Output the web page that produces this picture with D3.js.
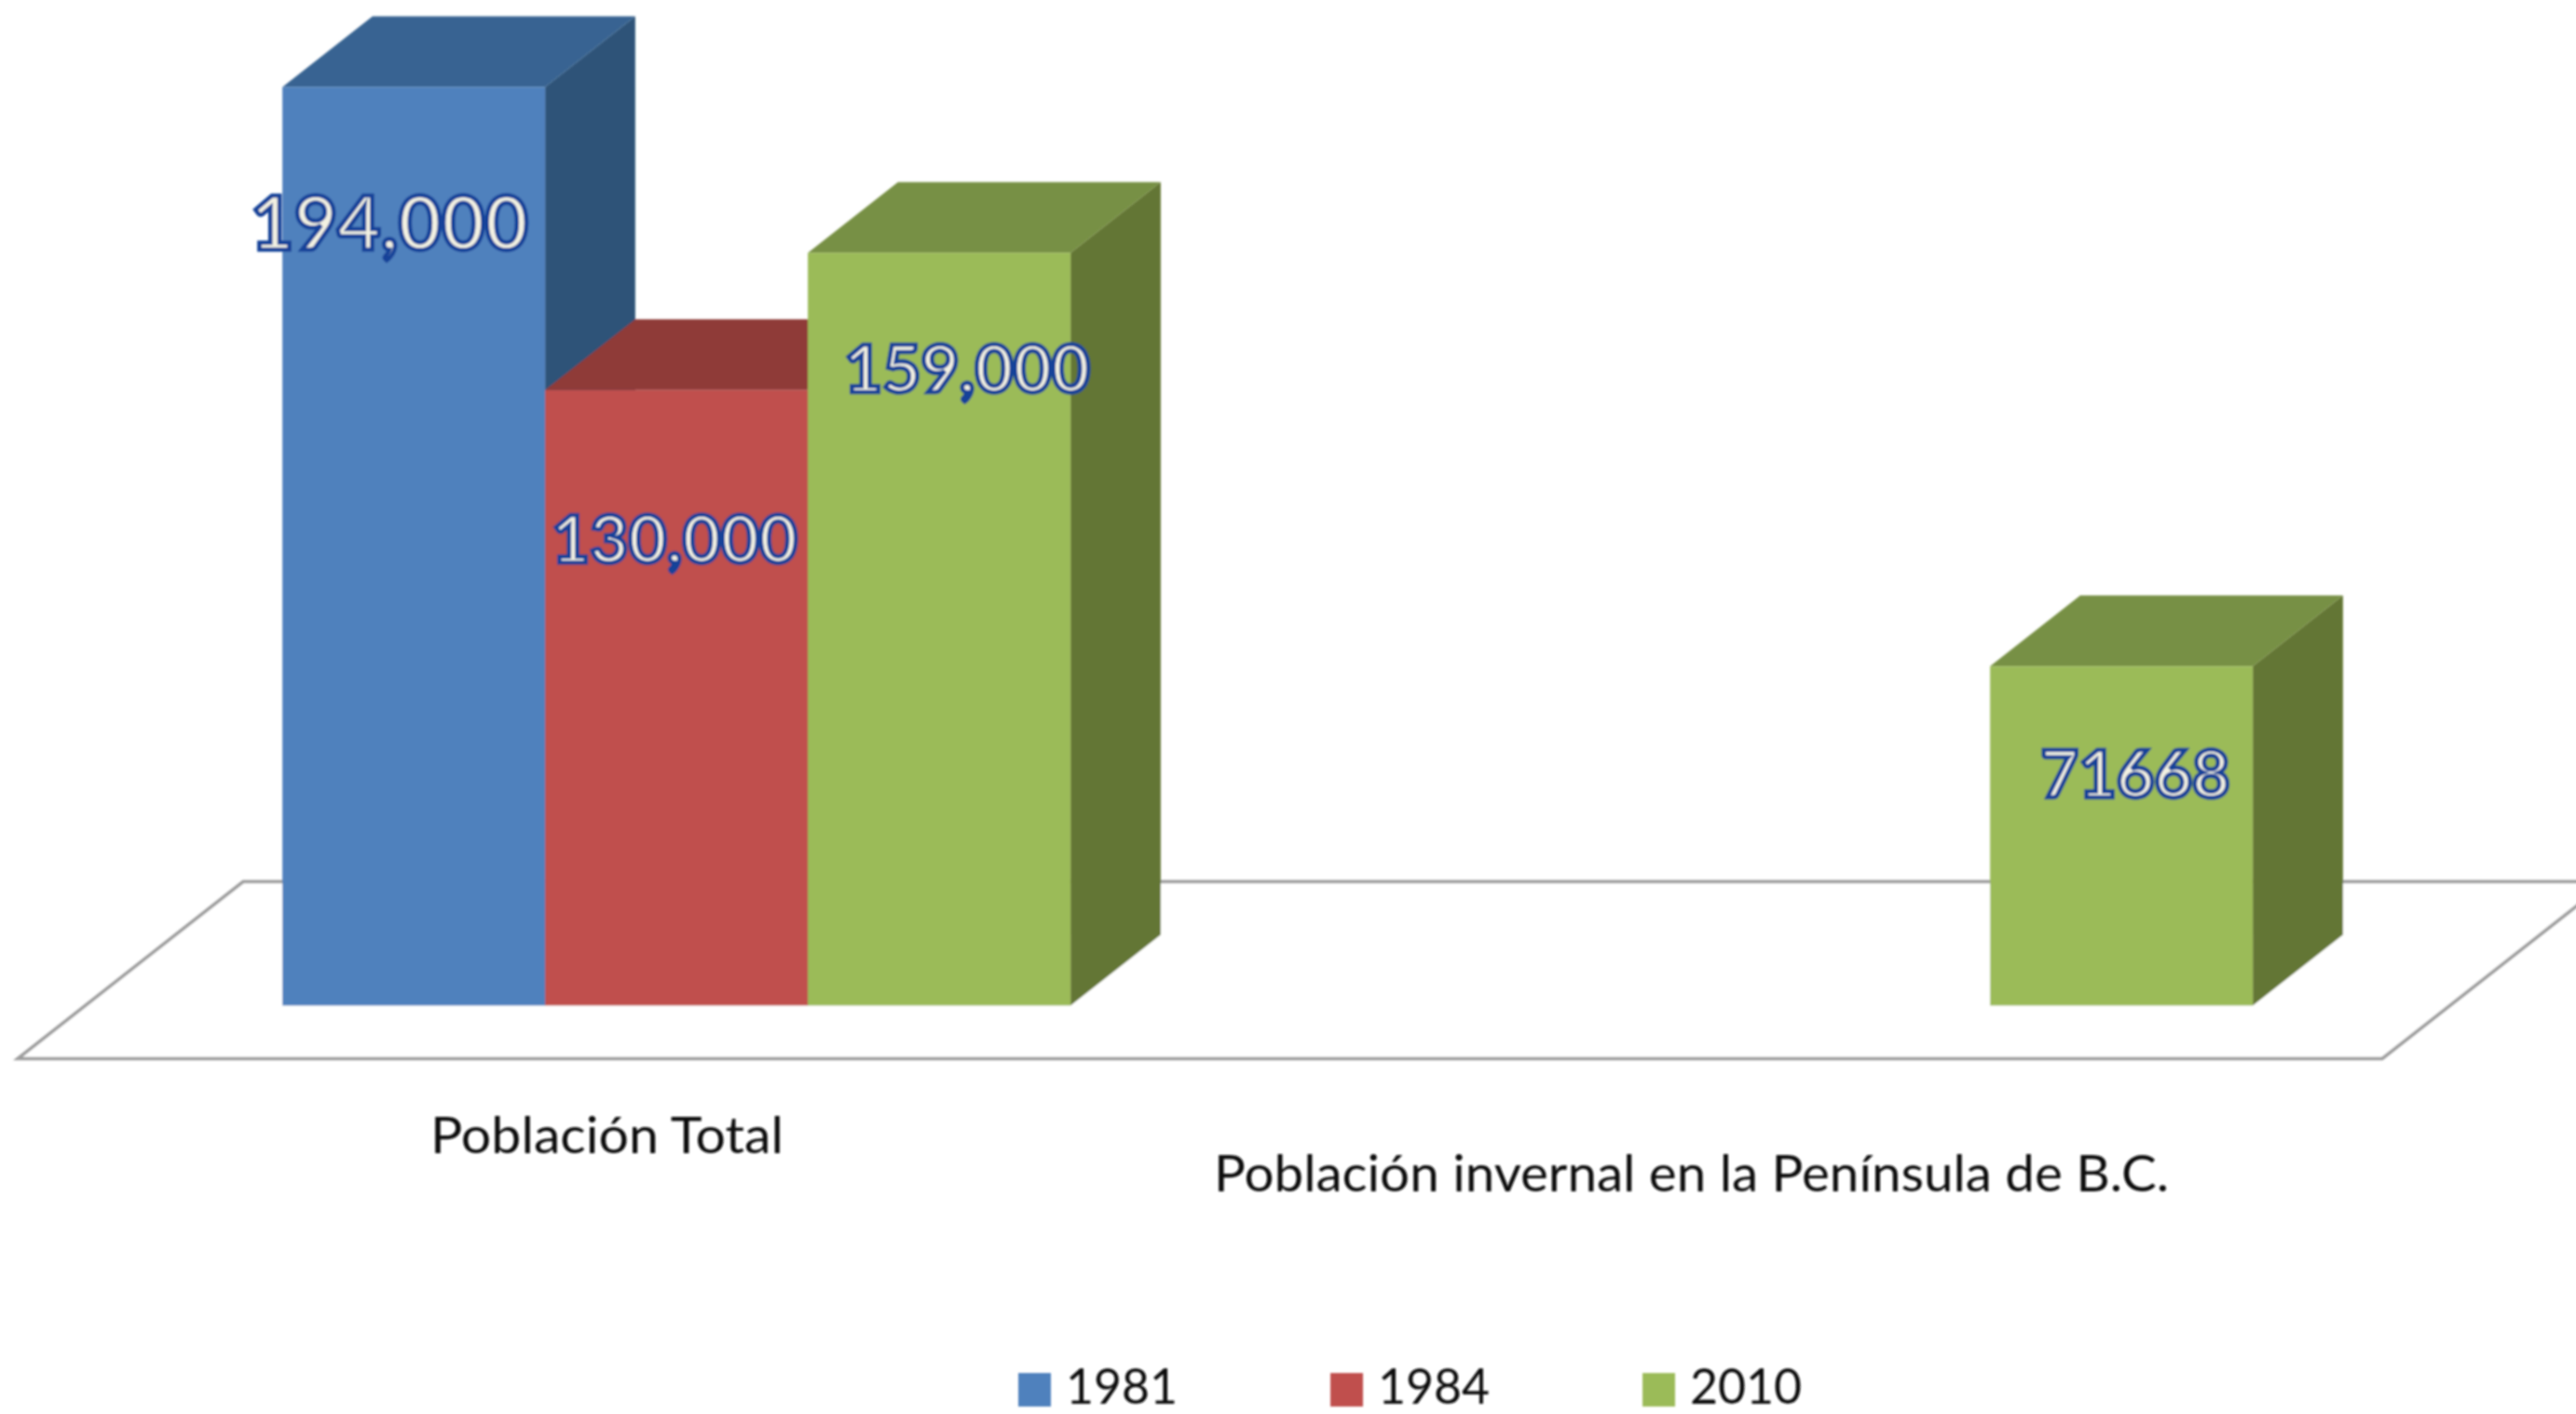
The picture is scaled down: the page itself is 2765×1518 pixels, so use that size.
<!DOCTYPE html>
<html>
<head>
<meta charset="utf-8">
<script src="https://cdn.jsdelivr.net/npm/d3@7"></script>
<style>
  html, body { margin: 0; padding: 0; background: #fff; overflow: hidden; }
  svg { display: block; }
  text { font-family: Lato, "Open Sans", sans-serif; fill: #111; }
  .value_label { fill: #f3f1e2; stroke: #134299; stroke-width: 4.6px; font-weight: 700; }
</style>
</head>
<body>
<div id="chart"></div>
<script>
// data
const categories = ['Población Total', 'Población invernal en la Península de B.C.'];
const seriesNames = ['1981', '1984', '2010'];
const values1981 = [194000, null];
const values1984 = [130000, null];
const values2010 = [159000, 71668];
const valueLabels1981 = ['194,000', ''];
const valueLabels1984 = ['130,000', ''];
const valueLabels2010 = ['159,000', '71668'];

const w = 2765, h = 1518;
const floorLeft = 19, floorRight = 2557, floorFront = 1136.5;
const depthX = 242, depthY = 190;   // full floor depth in the oblique projection
const barDepthStart = 0.3, barDepthEnd = 0.7;
const colors = {
    '1981': { front: '#4f81bd', top: '#386492', side: '#2f5378' },
    '1984': { front: '#c0504d', top: '#8f3a38', side: '#7d3230' },
    '2010': { front: '#9bbb59', top: '#779044', side: '#647634' }
};

// label placement is by hand in the original, so offsets are kept here
const labelNudge = {
    '1981|0': { dx: -26, dy: 175, size: 80, len: 298 },
    '1984|0': { dx: -2, dy: 185, size: 70, len: 264 },
    '2010|0': { dx: 30, dy: 150, size: 70, len: 264 },
    '2010|1': { dx: 15, dy: 141, size: 70, len: 203 }
};
const tickNudge = [{ x: -2, y: 0, len: 379 }, { x: -107, y: 41, len: 1025 }];

const svg = d3.select('#chart').append('svg')
    .attr('width', w)
    .attr('height', h);

const defs = svg.append('defs');
defs.append('filter').attr('id', 'soft')
    .attr('x', '-2%').attr('y', '-2%').attr('width', '104%').attr('height', '104%')
    .append('feGaussianBlur').attr('stdDeviation', 1);

const root = svg.append('g').attr('filter', 'url(#soft)');

// scales
const xCategory = d3.scaleBand()
    .domain(categories)
    .range([floorLeft, floorRight]);

const xSeries = d3.scaleBand()
    .domain(seriesNames)
    .range([0, xCategory.bandwidth()])
    .paddingInner(0)
    .paddingOuter(0.75);

const base = floorFront - depthY * barDepthStart;
const yScale = d3.scaleLinear()
    .domain([0, 200000])
    .range([base, base - 1016.5]);

// floor
const floorPoints = [
    [floorLeft, floorFront],
    [floorRight, floorFront],
    [floorRight + depthX, floorFront - depthY],
    [floorLeft + depthX, floorFront - depthY]
];
root.append('polygon')
    .attr('points', floorPoints.join(' '))
    .attr('fill', '#fff')
    .attr('stroke', '#9c9c9c')
    .attr('stroke-width', 3.5);

// one record per bar, in drawing order
const rows = [];
[values1981, values1984, values2010].forEach(function (vals, s) {
    const labels = [valueLabels1981, valueLabels1984, valueLabels2010][s];
    vals.forEach(function (v, c) {
        if (v === null) return;
        rows.push({ series: seriesNames[s], category: categories[c], catIndex: c, value: v, label: labels[c] });
    });
});

const shiftX = depthX * barDepthStart;
const offX = depthX * (barDepthEnd - barDepthStart);
const offY = depthY * (barDepthEnd - barDepthStart);

function barLeft(d) { return xCategory(d.category) + xSeries(d.series) + shiftX; }
function barRight(d) { return barLeft(d) + xSeries.bandwidth(); }

const bars = root.selectAll('.bar3d')
    .data(rows)
    .enter().append('g')
    .attr('class', 'bar3d');

bars.append('polygon') // right side
    .attr('fill', function (d) { return colors[d.series].side; })
    .attr('points', function (d) {
        const r = barRight(d), t = yScale(d.value), b = yScale(0);
        return [[r, t], [r + offX, t - offY], [r + offX, b - offY], [r, b]].join(' ');
    });

bars.append('polygon') // top
    .attr('fill', function (d) { return colors[d.series].top; })
    .attr('points', function (d) {
        const l = barLeft(d), r = barRight(d), t = yScale(d.value);
        return [[l, t], [r, t], [r + offX, t - offY], [l + offX, t - offY]].join(' ');
    });

bars.append('rect') // front
    .attr('x', barLeft)
    .attr('y', function (d) { return yScale(d.value); })
    .attr('width', xSeries.bandwidth())
    .attr('height', function (d) { return yScale(0) - yScale(d.value); })
    .attr('fill', function (d) { return colors[d.series].front; });

// value labels go above all bars
root.selectAll('.value_label')
    .data(rows)
    .enter().append('text')
    .attr('class', 'value_label')
    .attr('text-anchor', 'middle')
    .attr('lengthAdjust', 'spacingAndGlyphs')
    .attr('textLength', function (d) { return labelNudge[d.series + '|' + d.catIndex].len; })
    .style('font-size', function (d) { return labelNudge[d.series + '|' + d.catIndex].size + 'px'; })
    .attr('x', function (d) {
        return barLeft(d) + xSeries.bandwidth() / 2 + labelNudge[d.series + '|' + d.catIndex].dx;
    })
    .attr('y', function (d) {
        return yScale(d.value) + labelNudge[d.series + '|' + d.catIndex].dy;
    })
    .text(function (d) { return d.label; });

// x axis: category names only
const xAxis = d3.axisBottom(xCategory).tickSize(0).tickPadding(0);
const axisG = root.append('g')
    .attr('class', 'xaxis')
    .attr('transform', 'translate(0,' + floorFront + ')')
    .call(xAxis);
axisG.select('.domain').remove();
axisG.selectAll('text')
    .style('font-family', 'Lato')
    .style('font-size', '55px')
    .attr('fill', '#111')
    .attr('dy', null)
    .attr('lengthAdjust', 'spacingAndGlyphs')
    .attr('textLength', function (d, i) { return tickNudge[i].len; })
    .attr('x', function (d, i) { return tickNudge[i].x; })
    .attr('y', function (d, i) { return 101 + tickNudge[i].y; });

// legend
const legendX = d3.scalePoint()
    .domain(seriesNames)
    .range([1093, 1763]);

const legend = root.selectAll('.legend_item')
    .data(seriesNames)
    .enter().append('g')
    .attr('class', 'legend_item')
    .attr('transform', function (d) { return 'translate(' + legendX(d) + ',1474)'; });

legend.append('rect')
    .attr('width', 35)
    .attr('height', 36)
    .attr('fill', function (d) { return colors[d].front; });

legend.append('text')
    .attr('x', 51)
    .attr('y', 32.5)
    .style('font-size', '52px')
    .attr('lengthAdjust', 'spacingAndGlyphs')
    .attr('textLength', 120)
    .text(function (d) { return d; });
</script>
</body>
</html>
